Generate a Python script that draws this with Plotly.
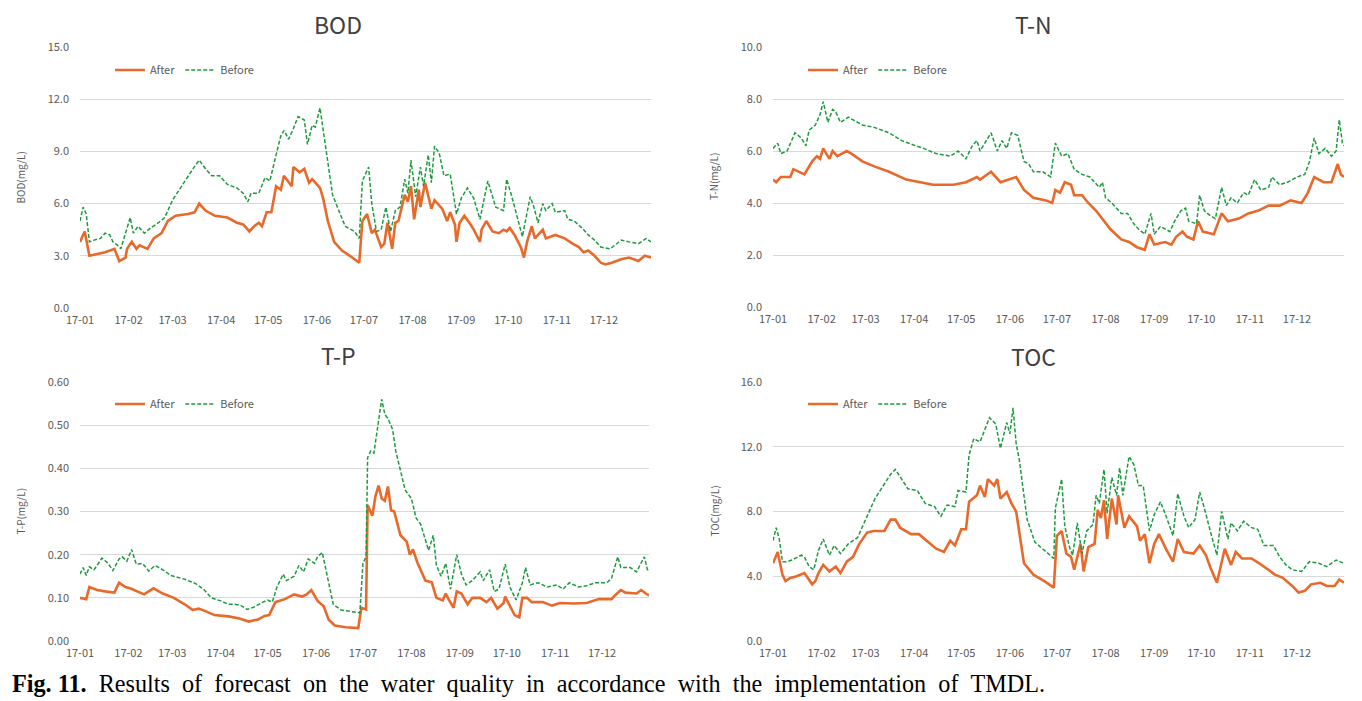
import pandas as pd
import plotly.graph_objects as go

# ---------------- data (day offset from 2017-01-01, value) ----------------
bod_after_day = [0,3,6,11,16,22,24,25,29,30,33,36,38,43,47,52,56,61,69,73,76,80,86,94,100,104,108,111,114,116,119,122,125,128,130,135,136,140,143,146,148,153,155,158,162,167,172,178,180,183,186,188,192,194,196,199,201,203,207,209,211,213,216,217,220,224,226,231,234,236,239,240,242,245,249,251,255,256,259,263,267,270,272,274,277,279,281,283,285,288,290,295,297,303,309,314,318,321,324,328,332,335,339,345,350,356,360,364]
bod_after = [3.8,4.4,3.0,3.1,3.2,3.4,3.0,2.7,2.9,3.4,3.8,3.4,3.6,3.4,4.0,4.3,5.0,5.3,5.4,5.5,6.0,5.6,5.3,5.2,4.9,4.8,4.4,4.7,4.9,4.7,5.5,5.5,7.0,6.8,7.6,7.0,8.1,7.8,8.0,7.2,7.4,6.9,6.3,5.0,3.8,3.3,3.0,2.6,5.0,5.4,4.3,4.5,3.5,3.7,4.9,3.4,4.9,5.0,6.5,6.1,7.0,5.1,6.8,5.8,7.2,5.7,6.2,5.7,5.0,5.5,4.8,3.8,4.9,5.3,4.8,4.5,3.8,4.5,5.0,4.4,4.3,4.5,4.4,4.6,4.2,3.8,3.5,2.9,3.8,4.7,4.0,4.5,4.0,4.2,4.0,3.7,3.5,3.2,3.3,3.0,2.6,2.5,2.6,2.8,2.9,2.7,3.0,2.9]
bod_before_day = [0,2,4,6,9,13,16,19,21,24,26,29,32,34,37,41,45,50,54,59,64,68,72,76,80,84,89,94,100,104,107,109,114,118,121,125,128,130,133,136,139,143,145,148,150,153,155,157,161,165,169,175,178,180,184,186,189,192,195,198,201,204,207,209,211,214,217,219,222,224,226,229,232,236,240,243,247,251,255,257,260,263,265,270,272,275,279,282,287,289,292,295,297,301,303,309,311,315,320,324,328,332,338,345,350,356,361,364]
bod_before = [5.0,5.8,5.4,3.8,3.9,4.0,4.3,4.2,3.8,3.6,3.4,4.3,5.2,4.3,4.7,4.3,4.6,4.9,5.2,6.2,6.9,7.5,8.0,8.5,8.0,7.6,7.6,7.1,6.9,6.6,6.1,6.6,6.6,7.5,7.3,8.8,9.9,10.2,9.7,10.3,11.0,10.8,9.4,10.5,10.4,11.5,10.2,9.2,6.5,5.6,4.7,4.4,4.0,7.3,8.1,6.0,4.4,4.5,5.8,4.4,5.6,5.8,7.4,6.6,8.5,6.4,8.1,7.0,8.8,7.2,9.3,8.9,7.6,7.7,5.4,6.3,6.9,6.3,5.1,6.0,7.3,6.4,5.8,5.6,7.4,6.5,5.1,4.1,6.4,5.9,4.9,6.0,5.6,6.0,5.5,5.6,5.1,5.0,4.6,4.2,3.9,3.5,3.4,3.9,3.8,3.7,4.0,3.8]

tn_after_day = [0,2,5,11,13,20,25,28,30,32,36,38,41,47,50,57,65,74,85,93,102,110,115,123,130,132,139,145,155,160,166,174,178,180,183,186,190,192,197,201,206,215,222,227,232,237,240,243,250,254,257,261,264,268,271,274,281,286,290,297,303,309,316,323,330,337,341,345,351,356,360,362,364]
tn_after = [4.9,4.8,5.0,5.0,5.3,5.1,5.6,5.8,5.7,6.1,5.7,6.0,5.8,6.0,5.9,5.6,5.4,5.2,4.9,4.8,4.7,4.7,4.7,4.8,5.0,4.9,5.2,4.8,5.0,4.5,4.2,4.1,4.0,4.5,4.4,4.8,4.7,4.3,4.3,4.0,3.7,3.0,2.6,2.5,2.3,2.2,2.8,2.4,2.5,2.4,2.7,2.9,2.7,2.6,3.3,2.9,2.8,3.6,3.3,3.4,3.6,3.7,3.9,3.9,4.1,4.0,4.4,5.0,4.8,4.8,5.5,5.1,5.0]
tn_before_day = [0,3,5,9,14,18,21,23,27,30,32,35,38,40,43,48,57,65,74,82,91,96,104,113,118,123,127,130,132,139,143,146,149,152,156,160,163,166,172,177,180,184,188,192,197,202,208,210,212,216,222,226,230,233,237,241,243,247,253,256,260,263,265,270,272,275,279,282,286,289,292,296,300,303,307,311,316,318,323,328,334,339,342,345,348,352,356,359,361,363,364]
tn_before = [6.1,6.3,5.9,6.0,6.7,6.5,6.2,6.8,7.0,7.4,7.9,7.1,7.6,7.5,7.1,7.3,7.0,6.9,6.7,6.4,6.2,6.1,5.9,5.8,6.0,5.7,6.2,6.4,6.0,6.7,6.0,6.4,6.1,6.7,6.6,5.6,5.5,5.2,5.2,5.0,6.3,5.8,5.9,5.3,5.1,5.0,4.6,4.8,4.2,4.0,3.6,3.6,3.2,3.0,2.8,3.6,2.8,3.1,2.9,3.3,3.7,3.8,3.3,3.2,4.3,3.7,3.5,3.4,4.6,3.9,4.2,4.0,4.4,4.3,4.9,4.5,4.6,5.0,4.7,4.8,5.0,5.1,5.6,6.5,5.9,6.1,5.8,6.0,7.2,6.3,6.2]

tp_after_day = [0,4,6,11,16,22,25,29,32,36,41,47,53,60,67,72,76,81,86,95,102,108,114,118,121,125,131,137,142,145,148,152,156,159,163,170,178,180,183,184,187,189,191,193,195,197,199,201,205,209,211,213,216,221,225,228,232,234,236,239,241,244,248,251,256,260,263,267,271,272,275,278,281,283,286,289,296,302,307,316,324,332,340,342,346,349,356,359,362,364]
tp_after = [0.100,0.097,0.125,0.118,0.115,0.112,0.135,0.125,0.122,0.115,0.108,0.122,0.110,0.100,0.085,0.072,0.075,0.068,0.060,0.057,0.052,0.045,0.050,0.058,0.060,0.090,0.097,0.108,0.103,0.108,0.118,0.093,0.080,0.050,0.036,0.032,0.030,0.077,0.073,0.315,0.290,0.335,0.360,0.330,0.325,0.358,0.303,0.300,0.245,0.230,0.200,0.212,0.180,0.140,0.136,0.100,0.094,0.110,0.095,0.077,0.115,0.110,0.085,0.100,0.100,0.090,0.100,0.075,0.088,0.103,0.080,0.060,0.055,0.100,0.100,0.090,0.090,0.082,0.088,0.087,0.088,0.097,0.097,0.105,0.118,0.112,0.110,0.118,0.110,0.106]
tp_before_day = [0,2,4,6,9,14,18,21,25,27,30,33,36,40,44,48,53,58,67,74,79,84,90,95,99,103,107,111,117,120,123,126,130,132,137,140,143,146,150,152,155,158,162,167,174,179,181,183,184,186,188,190,193,195,197,200,202,205,208,212,215,218,221,223,226,228,231,234,237,241,244,247,251,256,258,262,265,268,272,275,279,283,285,288,293,299,305,309,313,319,324,330,337,340,344,346,352,356,361,363,364]
tp_before = [0.155,0.170,0.152,0.172,0.165,0.192,0.180,0.163,0.190,0.195,0.185,0.212,0.178,0.180,0.162,0.175,0.165,0.152,0.143,0.133,0.120,0.100,0.093,0.085,0.085,0.082,0.073,0.078,0.090,0.095,0.090,0.125,0.155,0.140,0.150,0.175,0.160,0.190,0.180,0.195,0.205,0.150,0.085,0.072,0.068,0.065,0.180,0.195,0.425,0.440,0.435,0.490,0.560,0.525,0.515,0.490,0.440,0.395,0.350,0.330,0.285,0.270,0.235,0.210,0.245,0.175,0.150,0.180,0.120,0.200,0.155,0.130,0.140,0.160,0.140,0.165,0.115,0.120,0.178,0.125,0.095,0.135,0.170,0.130,0.135,0.125,0.130,0.120,0.135,0.125,0.128,0.135,0.135,0.145,0.195,0.170,0.170,0.160,0.195,0.165,0.165]

toc_after_day = [0,3,6,8,11,15,20,23,25,27,29,32,36,40,43,47,51,55,60,64,71,75,78,81,88,93,100,104,109,113,116,120,123,125,130,132,135,137,141,143,145,149,152,155,160,166,173,179,181,184,187,190,192,196,198,201,205,207,209,211,213,216,219,220,224,227,232,234,237,240,243,246,251,255,258,262,268,272,276,279,283,286,288,292,295,299,305,310,316,320,325,331,335,339,343,349,353,358,361,364]
toc_after = [4.8,5.5,4.1,3.7,3.9,4.0,4.2,3.8,3.5,3.7,4.2,4.7,4.3,4.6,4.2,4.9,5.2,6.0,6.7,6.8,6.8,7.5,7.5,7.0,6.6,6.6,6.0,5.7,5.5,6.2,5.9,6.9,6.9,8.6,9.0,9.6,8.9,10.0,9.6,10.0,8.8,9.2,8.5,8.0,4.8,4.1,3.7,3.3,6.5,6.8,5.4,5.2,4.4,6.0,4.3,5.8,6.0,8.1,7.6,8.7,6.3,8.8,7.2,9.0,7.0,7.7,7.1,6.2,6.6,4.8,6.0,6.6,5.6,4.9,6.3,5.5,5.4,5.9,5.3,4.5,3.6,4.8,5.7,4.7,5.5,5.1,5.1,4.8,4.4,4.1,3.9,3.4,3.0,3.1,3.5,3.6,3.4,3.4,3.8,3.6]
toc_before_day = [0,2,4,6,9,12,18,20,23,26,29,32,36,39,43,48,54,60,65,71,75,78,82,86,92,97,103,107,111,116,118,123,125,128,132,135,138,142,145,149,151,153,155,157,162,167,174,179,180,184,186,189,191,194,197,200,204,206,208,211,213,216,219,221,223,227,230,233,236,240,243,247,251,255,258,262,265,269,272,275,279,283,286,290,292,296,300,305,309,313,319,323,327,331,337,342,348,353,359,364]
toc_before = [6.2,7.0,6.3,4.9,4.9,5.0,5.3,5.2,4.6,4.4,5.6,6.3,5.3,5.9,5.4,6.0,6.4,7.7,8.8,9.7,10.3,10.6,10.0,9.4,9.3,8.5,8.3,7.7,8.4,8.3,9.3,9.2,11.5,12.5,12.3,13.0,13.8,13.4,11.9,13.5,12.8,14.4,12.2,11.2,7.5,6.1,5.5,5.1,8.2,10.0,7.1,5.8,5.3,7.3,5.4,6.8,7.2,9.0,8.5,10.6,7.9,10.1,9.0,10.7,9.0,11.4,10.9,9.6,9.6,6.8,7.8,8.6,7.6,6.5,9.1,7.7,7.0,7.5,9.2,8.2,6.7,5.3,8.0,6.3,7.3,6.8,7.4,7.0,6.9,5.9,5.9,5.2,4.7,4.4,4.3,4.9,4.8,4.6,5.0,4.8]

panel_titles = ["BOD", "T-N", "T-P", "TOC"]
y_titles = ["BOD(mg/L)", "T-N(mg/L)", "T-P(mg/L)", "TOC(mg/L)"]
y_max = [15.0, 10.0, 0.60, 16.0]
y_step = [3.0, 2.0, 0.10, 4.0]
y_fmt = [".1f", ".1f", ".2f", ".1f"]
series_names = ["After", "Before"]
caption_bold = "Fig. 11."
caption_text = "Results of forecast on the water quality in accordance with the implementation of TMDL."

# ---------------- layout helpers ----------------
OFF = 8                     # page body margin offset
W, H = 1362 - OFF, 701 - OFF
BASE = pd.Timestamp("2017-01-01")


def to_dates(days):
    return BASE + pd.to_timedelta(days, unit="D")


def px_x(p):
    return (p - OFF) / W


def px_y(p):
    return 1 - (p - OFF) / H


# plot areas in screen pixels: (left, right, top, bottom)
areas = [(80, 651, 47, 308), (773, 1344, 47, 307), (80, 649, 382, 641), (773, 1344, 382, 641)]
title_pos = [(338, 24), (1033, 24), (338, 355), (1033, 356)]
ytitle_x = [20, 713, 20, 714]
legend_pos = [(110, 70), (803, 70), (110, 404), (803, 404)]

ORANGE = "#E8692A"
GREEN = "#1E9A3E"
GRAY = "#595959"
FONT = "Noto Sans CJK KR, Noto Sans, sans-serif"

data = [
    (bod_after_day, bod_after, bod_before_day, bod_before),
    (tn_after_day, tn_after, tn_before_day, tn_before),
    (tp_after_day, tp_after, tp_before_day, tp_before),
    (toc_after_day, toc_after, toc_before_day, toc_before),
]

fig = go.Figure()
layout = dict(
    width=W, height=H, margin=dict(l=0, r=0, t=0, b=0, autoexpand=False),
    paper_bgcolor="white", plot_bgcolor="white",
    font=dict(family=FONT, color=GRAY), annotations=[],
)

for i, (ad, av, bd, bv) in enumerate(data):
    k = "" if i == 0 else str(i + 1)
    leg = "legend" + k
    fig.add_trace(go.Scatter(
        x=to_dates(ad), y=av, mode="lines", name=series_names[0],
        line=dict(color=ORANGE, width=2.6), xaxis="x" + k, yaxis="y" + k,
        legend=leg, showlegend=True))
    fig.add_trace(go.Scatter(
        x=to_dates(bd), y=bv, mode="lines", name=series_names[1],
        line=dict(color=GREEN, width=1.5, dash="4px,2px"), xaxis="x" + k, yaxis="y" + k,
        legend=leg, showlegend=True))
    l, r, t, b = areas[i]
    layout["xaxis" + k] = dict(
        domain=[px_x(l), px_x(r)], anchor="y" + k, type="date",
        range=["2017-01-01", "2017-12-31"], dtick="M1", tick0="2017-01-01",
        tickformat="%y-%m", showgrid=False, zeroline=False, showline=False,
        ticks="", tickfont=dict(size=11, color=GRAY), ticklabelstandoff=4,
        automargin=False)
    layout["yaxis" + k] = dict(
        domain=[px_y(b), px_y(t)], anchor="x" + k, range=[0, y_max[i]],
        dtick=y_step[i], tick0=0, tickformat=y_fmt[i], showgrid=True,
        gridcolor="#D9D9D9", gridwidth=1, zeroline=False, showline=False,
        ticks="", tickfont=dict(size=11, color=GRAY), ticklabelstandoff=10,
        automargin=False)
    lx, ly = legend_pos[i]
    layout[leg] = dict(
        x=px_x(lx), y=px_y(ly), xanchor="left", yanchor="middle",
        orientation="h", bgcolor="rgba(0,0,0,0)", font=dict(size=11, color=GRAY),
        tracegroupgap=0)
    tx, ty = title_pos[i]
    layout["annotations"].append(dict(
        text=panel_titles[i], x=px_x(tx), y=px_y(ty), xref="paper", yref="paper",
        xanchor="center", yanchor="middle", showarrow=False,
        font=dict(size=23, color="#404040", family=FONT)))
    layout["annotations"].append(dict(
        text=y_titles[i], x=px_x(ytitle_x[i]), y=px_y((t + b) / 2), xref="paper", yref="paper",
        xanchor="center", yanchor="middle", textangle=-90, showarrow=False,
        font=dict(size=10, color=GRAY, family=FONT)))

cap = "<b>" + caption_bold + "</b> &nbsp;" + caption_text.replace(" ", " &nbsp;")
layout["annotations"].append(dict(
    text=cap, x=px_x(10), y=px_y(683), xref="paper", yref="paper",
    xanchor="left", yanchor="middle", showarrow=False,
    font=dict(size=24.2, color="black", family="Liberation Serif, Times New Roman, serif")))

fig.update_layout(**layout)
fig.write_html("out.html")
